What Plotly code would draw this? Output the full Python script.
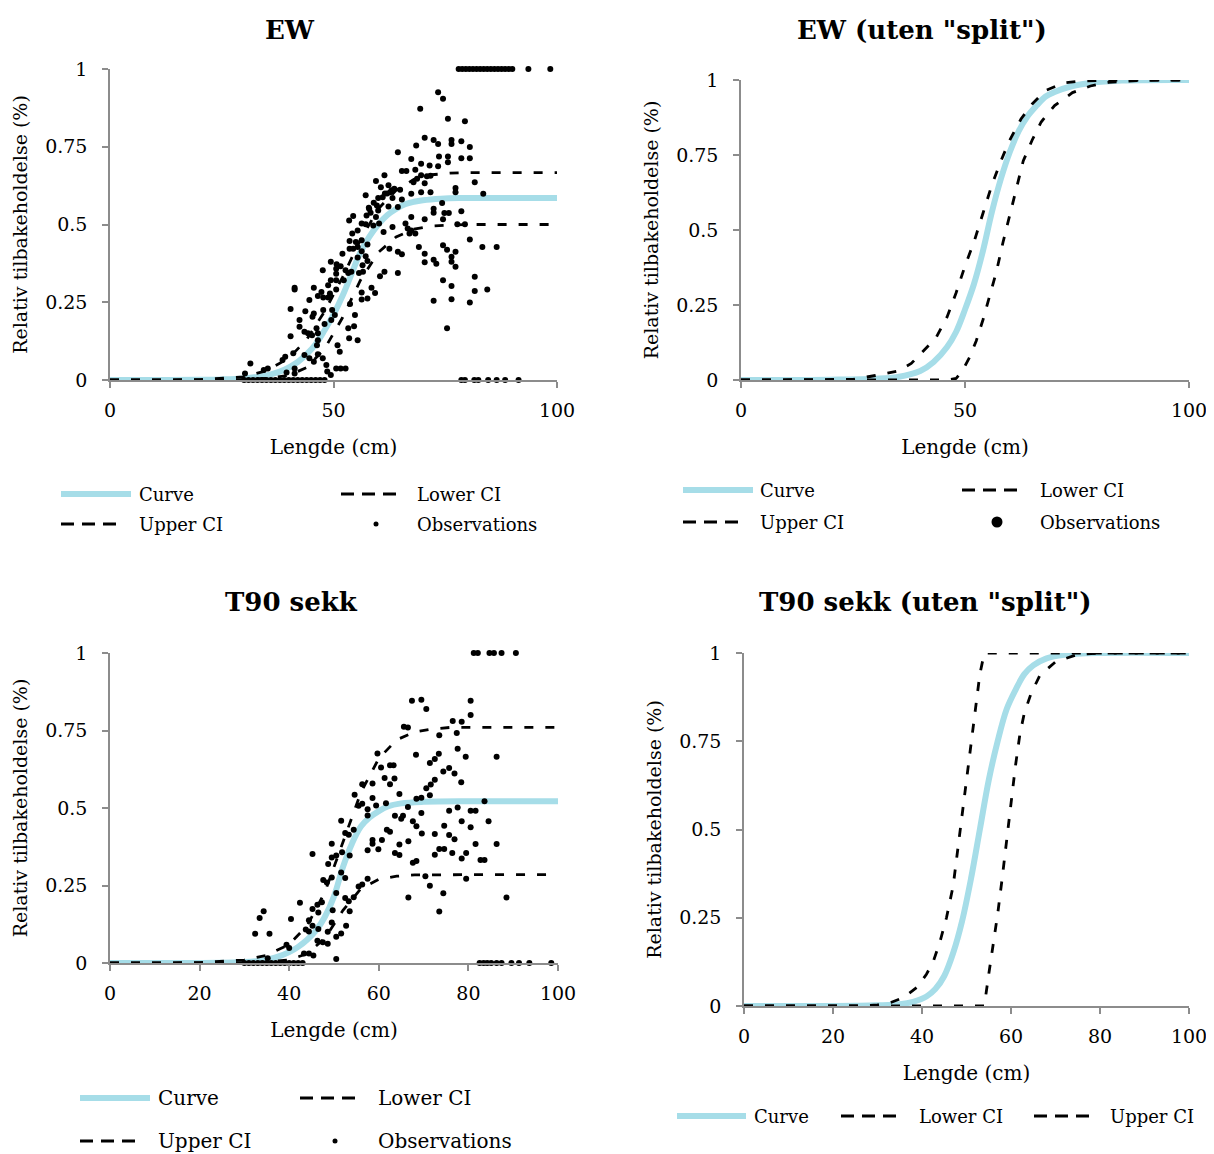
import plotly.graph_objects as go

W, H = 1214, 1154
PAGE_PAD = 8  # the page body adds an 8px margin around the figure
FONT = "DejaVu Serif"
CURVE_COL = "#A6DDE8"
AXIS_COL = "#8C8C8C"

# ---------- EW (with observations) ----------
ew_curve_x = [0, 10, 20, 25, 30, 33, 36, 39, 42, 44, 46, 48, 50, 52, 54, 56, 58, 60, 62, 64, 66, 68, 70, 74, 78, 85, 100]
ew_curve_y = [0, 0, 0.001, 0.002, 0.005, 0.01, 0.018, 0.033, 0.058, 0.083, 0.115, 0.16, 0.21, 0.27, 0.34, 0.41, 0.46, 0.50,
              0.53, 0.55, 0.565, 0.573, 0.578, 0.583, 0.585, 0.585, 0.585]
ew_ci_x = [0, 20, 30, 35, 40, 44, 48, 52, 56, 60, 64, 68, 72, 76, 80, 100]
ew_upper = [0, 0.001, 0.01, 0.03, 0.07, 0.13, 0.22, 0.33, 0.45, 0.55, 0.61, 0.645, 0.66, 0.665, 0.667, 0.667]
ew_lower = [0, 0, 0.001, 0.005, 0.015, 0.04, 0.1, 0.2, 0.32, 0.41, 0.46, 0.485, 0.495, 0.498, 0.5, 0.5]

ew_obs_x = [73.4, 74.5, 69.4, 75.6, 79.4, 70.4, 72.4, 73.4, 76.4, 76.4, 78.6, 68.5, 64.4, 80.5, 67.4, 73.6, 75.6, 78.6, 80.5, 69.6,
            71.5, 73.4, 75.6, 68.3, 65.3, 66.3, 69.6, 70.9, 71.7, 68.7, 61.4, 59.5, 62.3, 67.9, 70.4, 81.6, 77.3, 77.3, 60.6, 63.6,
            64.9, 62.7, 83.5, 67.4, 69.6, 71.7, 57.2, 61.0, 63.2, 65.3, 64.4, 59.7, 57.9, 62.3, 74.3, 72.4, 72.4, 74.8, 75.8, 78.6,
            74.5, 70.4, 67.4, 66.1, 63.2, 61.2, 66.6, 67.4, 68.3, 67.0, 77.7, 79.4, 80.5, 83.3, 86.5, 74.5, 75.4, 77.3, 76.4, 69.1,
            70.4, 70.4, 73.0, 72.4, 64.4, 65.3, 62.5, 64.4, 61.4, 60.4, 76.4, 77.3, 81.6, 84.4, 81.6, 74.5, 76.4, 72.4, 76.4, 80.5,
            75.4, 53.5, 54.4, 55.4, 57.4, 58.3, 59.5, 60.2, 58.9, 57.2, 56.3, 54.2, 53.6, 55.0, 56.3, 57.6, 55.4, 53.6, 54.4, 56.3,
            55.4, 57.2, 57.6, 56.5, 56.6, 55.7, 52.0, 50.7, 49.4, 50.6, 51.6, 52.7, 53.3, 54.0, 50.6, 49.4, 50.6, 52.3, 50.6, 48.8,
            49.2, 47.7, 48.8, 46.5, 47.3, 45.6, 47.6, 41.3, 41.3, 44.6, 43.7, 40.4, 42.4, 45.6, 45.3, 47.7, 49.7, 50.3, 49.5, 48.0,
            46.2, 45.2, 43.5, 42.4, 44.3, 46.5, 46.5, 46.3, 40.4, 50.9, 51.4, 54.8, 54.6, 53.7, 53.3, 53.5, 55.4, 56.3, 56.3, 57.6,
            58.5, 59.3, 41.0, 38.6, 39.2, 43.5, 44.6, 45.6, 46.5, 47.6, 48.4, 39.5, 41.3, 41.3, 34.4, 35.3, 31.4, 30.2, 48.6, 49.4,
            50.6, 51.6, 52.7, 58.0, 59.0, 60.0, 61.5, 62.0, 63.0, 60.0,
            78.0, 78.8, 79.6, 80.4, 81.2, 82.0, 82.8, 83.6, 84.4, 85.2, 86.0, 86.8, 87.6, 88.4, 89.2, 90.0, 93.6, 98.5,
            30, 31, 32, 33, 34, 35, 36, 37, 38, 39, 40, 41, 42, 43, 44, 45, 46, 47, 48,
            78.6, 79.4, 81.5, 82.4, 84.6, 86.5, 88.4, 91.4]
ew_obs_y = [0.925, 0.904, 0.872, 0.840, 0.832, 0.779, 0.772, 0.759, 0.772, 0.759, 0.768, 0.754, 0.732, 0.749, 0.711, 0.719, 0.719,
            0.713, 0.713, 0.695, 0.690, 0.687, 0.700, 0.676, 0.672, 0.672, 0.658, 0.655, 0.657, 0.647, 0.658, 0.640, 0.626, 0.636,
            0.633, 0.636, 0.617, 0.604, 0.620, 0.615, 0.612, 0.604, 0.599, 0.599, 0.604, 0.604, 0.594, 0.588, 0.585, 0.580, 0.556,
            0.561, 0.554, 0.558, 0.569, 0.551, 0.538, 0.537, 0.537, 0.543, 0.517, 0.517, 0.524, 0.503, 0.492, 0.476, 0.487, 0.481,
            0.471, 0.471, 0.501, 0.501, 0.452, 0.428, 0.428, 0.433, 0.419, 0.412, 0.396, 0.428, 0.406, 0.379, 0.374, 0.387, 0.412,
            0.404, 0.422, 0.344, 0.348, 0.334, 0.380, 0.364, 0.332, 0.291, 0.286, 0.321, 0.302, 0.255, 0.260, 0.249, 0.166, 0.513,
            0.527, 0.481, 0.529, 0.538, 0.524, 0.503, 0.497, 0.501, 0.503, 0.471, 0.447, 0.444, 0.449, 0.436, 0.428, 0.422, 0.422,
            0.414, 0.394, 0.398, 0.383, 0.369, 0.348, 0.344, 0.406, 0.372, 0.380, 0.358, 0.366, 0.353, 0.344, 0.348, 0.342, 0.321,
            0.321, 0.321, 0.291, 0.305, 0.278, 0.265, 0.265, 0.270, 0.283, 0.297, 0.353, 0.297, 0.291, 0.257, 0.221, 0.228, 0.193,
            0.214, 0.203, 0.225, 0.225, 0.209, 0.193, 0.180, 0.166, 0.144, 0.155, 0.171, 0.150, 0.150, 0.128, 0.112, 0.141, 0.112,
            0.091, 0.209, 0.173, 0.244, 0.166, 0.134, 0.128, 0.281, 0.259, 0.262, 0.297, 0.280, 0.086, 0.064, 0.075, 0.080, 0.070,
            0.059, 0.083, 0.070, 0.048, 0.024, 0.037, 0.021, 0.032, 0.037, 0.053, 0.021, 0.027, 0.016, 0.037, 0.037, 0.037, 0.55,
            0.57, 0.585, 0.60, 0.60, 0.61, 0.545,
            1, 1, 1, 1, 1, 1, 1, 1, 1, 1, 1, 1, 1, 1, 1, 1, 1, 1,
            0, 0, 0, 0, 0, 0, 0, 0, 0, 0, 0, 0, 0, 0, 0, 0, 0, 0, 0,
            0, 0, 0, 0, 0, 0, 0, 0]

# ---------- EW (uten "split") ----------
ews_curve_x = [0, 20, 30, 35, 40, 43, 46, 48, 50, 52, 54, 56, 58, 60, 62, 64, 66, 68, 70, 74, 78, 85, 100]
ews_curve_y = [0, 0.001, 0.004, 0.01, 0.03, 0.06, 0.11, 0.16, 0.235, 0.32, 0.43, 0.56, 0.67, 0.76, 0.83, 0.88, 0.915, 0.945,
               0.96, 0.98, 0.99, 0.998, 1.0]
ews_upper_x = [0, 20, 25, 30, 35, 38, 41, 43.5, 46, 48, 50, 52, 54, 56, 58, 60, 62.5, 65, 68, 72, 76, 85, 100]
ews_upper_y = [0, 0, 0.002, 0.015, 0.03, 0.055, 0.1, 0.14, 0.21, 0.29, 0.38, 0.46, 0.555, 0.65, 0.73, 0.8, 0.87, 0.92, 0.965,
               0.99, 0.997, 1, 1]
ews_lower_x = [0, 30, 40, 46, 48, 49.5, 51, 52.5, 54, 55.5, 57, 58.5, 60, 61.5, 63, 65, 67, 70, 74, 78, 82, 90, 100]
ews_lower_y = [0, 0, 0, 0, 0.005, 0.033, 0.075, 0.13, 0.2, 0.28, 0.36, 0.46, 0.55, 0.64, 0.73, 0.8, 0.86, 0.915, 0.958, 0.98,
               0.992, 0.999, 1]

# ---------- T90 sekk (with observations) ----------
t90_curve_x = [0, 10, 20, 30, 34, 37, 40, 42, 44, 46, 48, 50, 52, 54, 56, 58, 60, 62, 65, 70, 80, 100]
t90_curve_y = [0, 0, 0, 0.003, 0.008, 0.018, 0.035, 0.052, 0.075, 0.105, 0.15, 0.215, 0.31, 0.385, 0.44, 0.47, 0.49, 0.505,
               0.515, 0.52, 0.522, 0.522]
t90_ci_x = [0, 20, 30, 35, 40, 44, 48, 52, 56, 60, 64, 68, 72, 76, 80, 100]
t90_upper = [0, 0.001, 0.01, 0.025, 0.06, 0.12, 0.23, 0.39, 0.55, 0.66, 0.72, 0.745, 0.755, 0.76, 0.76, 0.76]
t90_lower = [0, 0, 0.001, 0.003, 0.01, 0.03, 0.08, 0.17, 0.24, 0.27, 0.28, 0.284, 0.285, 0.285, 0.285, 0.285]

t90_obs_x = [80.5, 67.4, 69.5, 70.6, 80.5, 78.5, 76.5, 77.4, 73.5, 65.6, 66.5, 68.3, 86.3, 79.4, 77.6, 59.7, 73.4, 72.5, 71.4,
             72.5, 74.4, 75.7, 76.9, 78.4, 60.5, 62.5, 63.3, 63.5, 61.3, 62.5, 58.6, 56.3, 58.6, 59.4, 61.6, 64.6, 63.6, 65.4,
             65.0, 66.5, 68.4, 69.5, 71.4, 71.6, 70.6, 69.5, 67.6, 68.4, 69.6, 72.5, 74.6, 75.7, 77.6, 75.7, 76.9, 78.5, 80.5,
             81.6, 80.5, 81.6, 83.6, 84.5, 82.7, 83.6, 86.3, 79.5, 78.5, 76.4, 79.5, 74.6, 73.5, 72.5, 71.4, 70.4, 68.4, 67.6,
             66.6, 64.6, 64.6, 63.6, 66.6, 74.4, 73.5, 88.5, 61.8, 62.5, 60.7, 59.9, 57.5, 58.6, 58.6, 57.5, 57.5, 56.3, 55.5,
             54.6, 54.4, 53.3, 52.5, 53.5, 51.8, 50.5, 49.5, 49.5, 51.6, 51.6, 52.5, 50.5, 49.5, 48.4, 47.6, 48.7, 45.2, 56.3,
             57.5, 55.5, 54.4, 53.3, 52.5, 53.5, 52.7, 51.6, 50.5, 49.7, 49.5, 48.6, 47.5, 48.6, 46.3, 46.5, 45.2, 44.4, 44.4,
             42.4, 46.3, 45.2, 46.5, 47.3, 40.4, 39.4, 40.0, 43.3, 44.4, 45.4, 50.5, 34.3, 33.4, 32.4, 35.6, 35.2, 43.7,
             81.2, 82.1, 84.7, 85.7, 87.4, 90.6,
             30, 31, 32, 33, 34, 35, 36, 37, 38, 39, 40, 41, 42, 43,
             82.5, 83.4, 84.2, 85.1, 86.3, 87.4, 89.6, 91.3, 93.6, 98.5]
t90_obs_y = [0.846, 0.846, 0.849, 0.819, 0.800, 0.778, 0.781, 0.742, 0.735, 0.762, 0.760, 0.672, 0.665, 0.665, 0.691, 0.676,
             0.675, 0.658, 0.645, 0.591, 0.618, 0.629, 0.611, 0.583, 0.631, 0.638, 0.638, 0.595, 0.597, 0.577, 0.579, 0.577,
             0.532, 0.508, 0.515, 0.545, 0.475, 0.475, 0.465, 0.503, 0.530, 0.533, 0.541, 0.576, 0.564, 0.484, 0.457, 0.441,
             0.418, 0.416, 0.443, 0.491, 0.502, 0.413, 0.399, 0.457, 0.491, 0.491, 0.438, 0.384, 0.522, 0.457, 0.332, 0.332,
             0.384, 0.355, 0.337, 0.355, 0.272, 0.368, 0.368, 0.349, 0.249, 0.280, 0.329, 0.323, 0.393, 0.382, 0.348, 0.355,
             0.211, 0.225, 0.166, 0.211, 0.430, 0.423, 0.397, 0.367, 0.364, 0.397, 0.385, 0.496, 0.476, 0.514, 0.507, 0.543,
             0.430, 0.414, 0.419, 0.347, 0.357, 0.347, 0.340, 0.385, 0.459, 0.292, 0.274, 0.226, 0.276, 0.260, 0.268, 0.319,
             0.352, 0.253, 0.272, 0.247, 0.212, 0.199, 0.210, 0.167, 0.120, 0.095, 0.085, 0.170, 0.131, 0.101, 0.067, 0.062,
             0.072, 0.110, 0.120, 0.102, 0.138, 0.194, 0.188, 0.174, 0.163, 0.196, 0.142, 0.059, 0.048, 0.031, 0.031, 0.024,
             0.013, 0.167, 0.145, 0.094, 0.094, 0.015, 0.108,
             1, 1, 1, 1, 1, 1,
             0, 0, 0, 0, 0, 0, 0, 0, 0, 0, 0, 0, 0, 0,
             0, 0, 0, 0, 0, 0, 0, 0, 0, 0]

# ---------- T90 sekk (uten "split") ----------
t90s_curve_x = [0, 20, 30, 35, 38, 41, 43, 45, 47, 49, 51, 53, 55, 57, 59, 61, 63, 65, 68, 72, 80, 100]
t90s_curve_y = [0, 0, 0.002, 0.005, 0.012, 0.027, 0.048, 0.085, 0.15, 0.24, 0.36, 0.5, 0.64, 0.75, 0.84, 0.895, 0.94, 0.965,
                0.985, 0.995, 1, 1]
t90s_upper_x = [0, 25, 30, 33, 36, 39, 41, 42.5, 44, 45.5, 47, 48.5, 50, 51.5, 53, 54, 60, 100]
t90s_upper_y = [0, 0, 0.003, 0.01, 0.025, 0.054, 0.09, 0.125, 0.18, 0.25, 0.34, 0.49, 0.65, 0.79, 0.94, 1, 1, 1]
t90s_lower_x = [0, 30, 40, 50, 54, 55, 56, 57, 58, 59, 60, 61, 62, 63, 64.5, 66.5, 70, 75, 80, 100]
t90s_lower_y = [0, 0, 0, 0, 0, 0.09, 0.17, 0.26, 0.36, 0.47, 0.57, 0.68, 0.77, 0.83, 0.885, 0.937, 0.975, 0.996, 1, 1]

titles = ["EW", 'EW (uten "split")', "T90 sekk", 'T90 sekk (uten "split")']
y_ticks = [0, 0.25, 0.5, 0.75, 1]
y_ticktext = ["0", "0.25", "0.5", "0.75", "1"]
x_ticks_top = [0, 50, 100]
x_ticks_bottom = [0, 20, 40, 60, 80, 100]


def px(x):
    return (x - PAGE_PAD) / W


def py(y):
    return 1 - (y - PAGE_PAD) / H


fig = go.Figure()

# (x axis pixel span, y axis pixel span, x ticks) per panel
panels = [
    ("x", "y", (110, 557), (69, 380), x_ticks_top),
    ("x2", "y2", (741, 1189), (80, 380), x_ticks_top),
    ("x3", "y3", (110, 558), (653, 963), x_ticks_bottom),
    ("x4", "y4", (744, 1189), (653, 1006), x_ticks_bottom),
]

series = [
    (ew_curve_x, ew_curve_y, ew_ci_x, ew_lower, ew_ci_x, ew_upper, ew_obs_x, ew_obs_y),
    (ews_curve_x, ews_curve_y, ews_lower_x, ews_lower_y, ews_upper_x, ews_upper_y, None, None),
    (t90_curve_x, t90_curve_y, t90_ci_x, t90_lower, t90_ci_x, t90_upper, t90_obs_x, t90_obs_y),
    (t90s_curve_x, t90s_curve_y, t90s_lower_x, t90s_lower_y, t90s_upper_x, t90s_upper_y, None, None),
]

dash = "9px,12px"
for (xa, ya, xs, ys, xt), (cx, cy, lx, ly, ux, uy, ox, oy) in zip(panels, series):
    fig.add_trace(go.Scatter(x=cx, y=cy, mode="lines", name="Curve", line=dict(color=CURVE_COL, width=6, shape="spline"),
                             xaxis=xa, yaxis=ya, cliponaxis=False))
    fig.add_trace(go.Scatter(x=lx, y=ly, mode="lines", name="Lower CI", line=dict(color="black", width=2.8, dash=dash),
                             xaxis=xa, yaxis=ya, cliponaxis=False))
    fig.add_trace(go.Scatter(x=ux, y=uy, mode="lines", name="Upper CI", line=dict(color="black", width=2.8, dash=dash),
                             xaxis=xa, yaxis=ya, cliponaxis=False))
    if ox is not None:
        fig.add_trace(go.Scatter(x=ox, y=oy, mode="markers", name="Observations", marker=dict(color="black", size=6),
                                 xaxis=xa, yaxis=ya, cliponaxis=False))

layout = dict(width=W, height=H, margin=dict(l=0, r=0, t=0, b=0), showlegend=False,
              plot_bgcolor="white", paper_bgcolor="white", font=dict(family=FONT, size=19, color="black"))
for i, (xa, ya, xs, ys, xt) in enumerate(panels):
    suf = "" if i == 0 else str(i + 1)
    layout["xaxis" + suf] = dict(domain=[px(xs[0]), px(xs[1])], range=[0, 100], anchor=ya, tickvals=xt,
                                 automargin=False, showline=True, linecolor=AXIS_COL, linewidth=1.5, ticks="outside",
                                 ticklen=6, tickcolor=AXIS_COL, tickwidth=1.5, showgrid=False, zeroline=False,
                                 ticklabelstandoff=6, tickfont=dict(size=19),
                                 title=dict(text="Lengde (cm)", font=dict(size=20), standoff=20))
    layout["yaxis" + suf] = dict(domain=[py(ys[1]), py(ys[0])], range=[0, 1], anchor=xa, tickvals=y_ticks,
                                 ticktext=y_ticktext, automargin=False, showline=True, linecolor=AXIS_COL,
                                 linewidth=1.5, ticks="outside", ticklen=6, tickcolor=AXIS_COL, tickwidth=1.5,
                                 showgrid=False, zeroline=False, ticklabelstandoff=11, tickfont=dict(size=19),
                                 title=dict(text="Relativ tilbakeholdelse (%)", font=dict(size=19), standoff=12))
fig.update_layout(**layout)

# panel titles
title_pos = [(290, 30), (922, 30), (291, 602), (925, 602)]
for t, (tx, ty) in zip(titles, title_pos):
    fig.add_annotation(text="<b>" + t + "</b>", x=px(tx), y=py(ty), xref="paper", yref="paper",
                       showarrow=False, xanchor="center", yanchor="middle", font=dict(size=26))

# legends drawn below each panel: (kind, sample x0, sample x1, y, text x, label, font size)
legend_items = [
    ("curve", 61, 131, 494, 137, "Curve", 18), ("dash", 341, 398, 494, 415, "Lower CI", 18),
    ("dash", 61, 117, 524, 137, "Upper CI", 18), ("dot", 376, 376, 524, 415, "Observations", 18),
    ("curve", 683, 753, 490, 758, "Curve", 18), ("dash", 962, 1020, 490, 1038, "Lower CI", 18),
    ("dash", 683, 740, 522, 758, "Upper CI", 18), ("bigdot", 997, 997, 522, 1038, "Observations", 18),
    ("curve", 80, 150, 1098, 156, "Curve", 20), ("dash", 300, 358, 1098, 376, "Lower CI", 20),
    ("dash", 80, 138, 1141, 156, "Upper CI", 20), ("dot", 335, 335, 1141, 376, "Observations", 20),
    ("curve", 677, 746, 1116, 752, "Curve", 18), ("dash", 841, 898, 1116, 917, "Lower CI", 18),
    ("dash", 1034, 1091, 1116, 1108, "Upper CI", 18),
]
for kind, x0, x1, y, tx, label, fs in legend_items:
    if kind == "curve":
        fig.add_shape(type="line", xref="paper", yref="paper", x0=px(x0), x1=px(x1), y0=py(y), y1=py(y),
                      line=dict(color=CURVE_COL, width=6))
    elif kind == "dash":
        fig.add_shape(type="line", xref="paper", yref="paper", x0=px(x0), x1=px(x1), y0=py(y), y1=py(y),
                      line=dict(color="black", width=2.8, dash="13px,8px"))
    else:
        r = 2.5 if kind == "dot" else 5.5
        fig.add_shape(type="circle", xref="paper", yref="paper", x0=px(x0 - r), x1=px(x0 + r),
                      y0=py(y + r), y1=py(y - r), fillcolor="black", line=dict(width=0))
    fig.add_annotation(text=label, x=px(tx), y=py(y), xref="paper", yref="paper", showarrow=False,
                       xanchor="left", yanchor="middle", font=dict(size=fs))

fig.write_html("out.html")
